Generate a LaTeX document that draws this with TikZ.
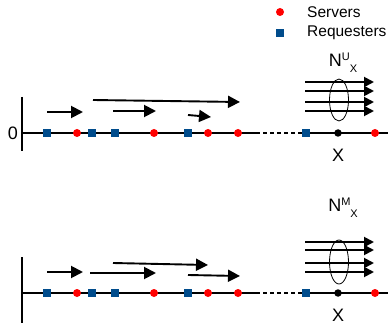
\documentclass[tikz,border=0pt]{standalone}
\usepackage{fontspec}
\setmainfont{Liberation Sans}
\usetikzlibrary{arrows.meta,shapes.geometric}
\definecolor{srv}{RGB}{255,0,0}
\definecolor{req}{RGB}{0,76,140}
\tikzset{
  server/.style={circle,fill=srv,inner sep=0pt,minimum size=8pt},
  requester/.style={rectangle,fill=req,inner sep=0pt,minimum size=7.5pt},
  xdot/.style={circle,fill=black,inner sep=0pt,minimum size=7.5pt},
  axis/.style={line width=1.7pt},
  flow/.style={line width=1.9pt,-{Triangle[length=12pt,width=12pt]}},
  bundle/.style={line width=1.9pt,-{Triangle[length=10pt,width=10pt]}},
  lbl/.style={inner sep=0pt,font=\fontsize{18}{20}\selectfont},
  leg/.style={inner sep=0pt,anchor=west,font=\fontsize{15.5}{17}\selectfont},
  ring/.style={draw,ellipse,line width=0.8pt,minimum width=19pt,inner sep=0pt}
}
\begin{document}
\begin{tikzpicture}[x=1pt,y=-1pt]
\useasboundingbox (0,0) rectangle (388,331);
% legend
\node[server] (ls) at (280,12) {};
\node[leg] (lst) at (307,12) {Servers};
\node[requester] (lr) at (280,33) {};
\node[leg] (lrt) at (307,33) {Requesters};

% ---------- top panel ----------
\coordinate (tv1) at (22,97); \coordinate (tv2) at (22,151);
\draw[axis] (tv1) -- (tv2);
\coordinate (th0) at (22,133); \coordinate (th1) at (256,133);
\coordinate (th2) at (302,133); \coordinate (th3) at (388,133);
\draw[axis] (th0) -- (th1);
\draw[axis,dash pattern=on 4pt off 3pt] (th1) -- (th2);
\draw[axis] (th2) -- (th3);
\node[lbl,anchor=east] (tz) at (18,133) {0};
\foreach \x/\n in {47/a,92/b,115/c,188/d,306/e}{\node[requester] (tr\n) at (\x,133) {};}
\foreach \x/\n in {77/a,154/b,208/c,238/d,375/e}{\node[server] (ts\n) at (\x,133) {};}
\node[xdot] (tx) at (338,133) {};
\node[lbl] (txl) at (338,155) {X};
% arrows
\coordinate (ta1) at (47,112); \coordinate (ta2) at (83,112);
\draw[flow] (ta1) -- (ta2);
\coordinate (tb1) at (93,100); \coordinate (tb2) at (240,102);
\draw[flow] (tb1) -- (tb2);
\coordinate (tc1) at (113,111); \coordinate (tc2) at (156,111);
\draw[flow] (tc1) -- (tc2);
\coordinate (td1) at (188,115); \coordinate (td2) at (211,117);
\draw[flow] (td1) -- (td2);
% bundle
\foreach \y/\n in {82/a,91/b,102/c,111/d}{
  \coordinate (tbs\n) at (305,\y); \coordinate (tbe\n) at (374,\y);
  \draw[bundle] (tbs\n) -- (tbe\n);}
\node[ring,minimum height=42pt] (tell) at (339,100) {};
\node[lbl] (tn) at (343,63) {N\raisebox{6pt}{\fontsize{11}{12}\selectfont U}\raisebox{-6pt}{\fontsize{11}{12}\selectfont X}};

% ---------- bottom panel ----------
\coordinate (bv1) at (22,257); \coordinate (bv2) at (22,323);
\draw[axis] (bv1) -- (bv2);
\coordinate (bh0) at (22,293); \coordinate (bh1) at (256,293);
\coordinate (bh2) at (302,293); \coordinate (bh3) at (388,293);
\draw[axis] (bh0) -- (bh1);
\draw[axis,dash pattern=on 4pt off 3pt] (bh1) -- (bh2);
\draw[axis] (bh2) -- (bh3);
\foreach \x/\n in {47/a,92/b,115/c,188/d,306/e}{\node[requester] (br\n) at (\x,293) {};}
\foreach \x/\n in {77/a,154/b,208/c,238/d,375/e}{\node[server] (bs\n) at (\x,293) {};}
\node[xdot] (bx) at (338,293) {};
\node[lbl] (bxl) at (338,315) {X};
% arrows
\coordinate (ba1) at (47,272); \coordinate (ba2) at (83,272);
\draw[flow] (ba1) -- (ba2);
\coordinate (bb1) at (90,273); \coordinate (bb2) at (156,273);
\draw[flow] (bb1) -- (bb2);
\coordinate (bc1) at (113,263); \coordinate (bc2) at (208,265);
\draw[flow] (bc1) -- (bc2);
\coordinate (bd1) at (188,275); \coordinate (bd2) at (240,276);
\draw[flow] (bd1) -- (bd2);
% bundle
\foreach \y/\n in {242/a,250/b,263/c,272/d}{
  \coordinate (bbs\n) at (305,\y); \coordinate (bbe\n) at (374,\y);
  \draw[bundle] (bbs\n) -- (bbe\n);}
\node[ring,minimum height=44pt] (bell) at (339,262) {};
\node[lbl] (bn) at (343,208) {N\raisebox{6pt}{\fontsize{11}{12}\selectfont M}\raisebox{-6pt}{\fontsize{11}{12}\selectfont X}};
\end{tikzpicture}
\end{document}
